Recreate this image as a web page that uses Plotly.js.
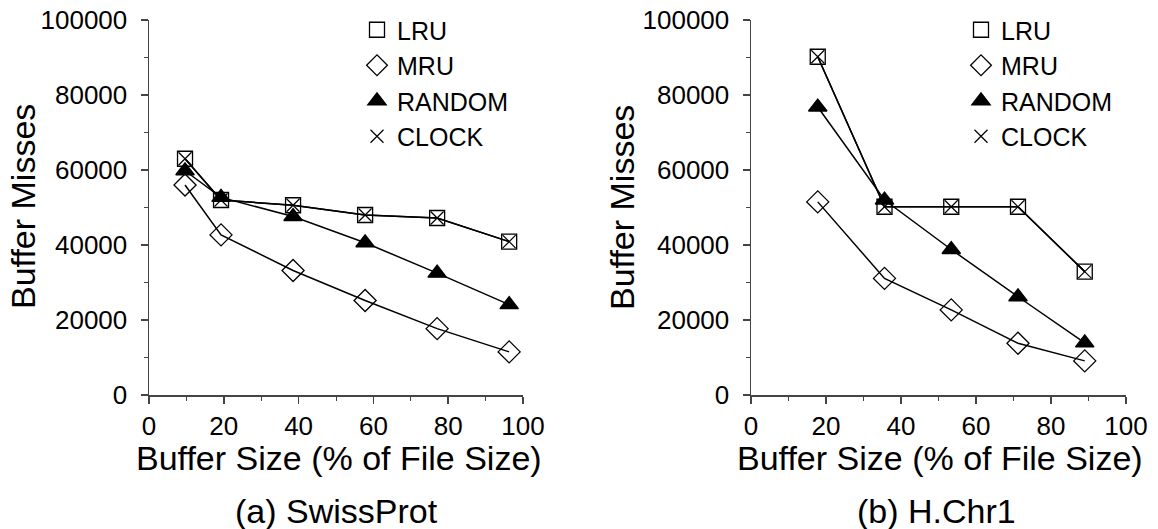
<!DOCTYPE html>
<html>
<head>
<meta charset="utf-8">
<script src="https://cdn.plot.ly/plotly-3.0.1.min.js"></script>
<style>html,body{margin:0;padding:0;background:#fff;}#chart{width:1158px;height:529px;}</style>
</head>
<body>
<div id="chart"></div>
<script>
// ---- data ----
var seriesNames = ["LRU", "MRU", "RANDOM", "CLOCK"];
var xSwiss = [9.63, 19.26, 38.52, 57.78, 77.04, 96.3];
var lruSwiss = [63000, 52000, 50600, 48000, 47200, 40900];
var mruSwiss = [56000, 42700, 33200, 25200, 17700, 11500];
var randomSwiss = [59800, 52700, 47600, 40600, 32500, 24100];
var clockSwiss = [63000, 52000, 50600, 48000, 47200, 40900];

var xChr = [17.8, 35.6, 53.4, 71.2, 89.0];
var lruChr = [90200, 50200, 50200, 50200, 32900];
var mruChr = [51500, 31100, 22700, 13800, 9100];
var randomChr = [76800, 52000, 38800, 26200, 13900];
var clockChr = [90200, 50200, 50200, 50200, 32900];

var xTickVals = [0, 20, 40, 60, 80, 100];
var yTickVals = [0, 20000, 40000, 60000, 80000, 100000];
var yTickText = ["0", "20000", "40000", "60000", "80000", "100000"];

var subtitleA = "(a) SwissProt";
var subtitleB = "(b) H.Chr1";
var xTitle = "Buffer Size (% of File Size)";
var yTitle = "Buffer Misses";

// ---- styles ----
var FONT = "Liberation Sans, Arial, Helvetica, sans-serif";
var symbols = {LRU: "square-open", MRU: "diamond-open", RANDOM: "triangle-up", CLOCK: "x-thin-open"};
var sizes = {LRU: 15, MRU: 17, RANDOM: 16, CLOCK: 13};
var AXC = "#444";

function makeTraces(x, ys, xa, ya, legendId) {
  var out = [];
  seriesNames.forEach(function (name, i) {
    out.push({
      x: x, y: ys[i], xaxis: xa, yaxis: ya, mode: "lines", showlegend: false,
      line: {color: "#000", width: 1.5}, hoverinfo: "skip", cliponaxis: false
    });
  });
  seriesNames.forEach(function (name, i) {
    out.push({
      x: x, y: ys[i], xaxis: xa, yaxis: ya, mode: "markers", name: name,
      legend: legendId, cliponaxis: false,
      marker: {
        symbol: symbols[name], size: sizes[name], color: "#000",
        line: {color: "#000", width: name === "CLOCK" ? 1.2 : 1.3}
      }
    });
  });
  return out;
}

var traces = []
  .concat(makeTraces(xSwiss, [lruSwiss, mruSwiss, randomSwiss, clockSwiss], "x", "y", "legend"))
  .concat(makeTraces(xChr, [lruChr, mruChr, randomChr, clockChr], "x2", "y2", "legend2"));

function xAxis(domain, anchor) {
  return {
    domain: domain, anchor: anchor, range: [0, 100], tickvals: xTickVals,
    showgrid: false, zeroline: false, showline: true, linecolor: AXC, linewidth: 1.5,
    ticks: "outside", ticklen: 7, tickwidth: 1.5, tickcolor: AXC,
    minor: {dtick: 10, ticks: "outside", ticklen: 4, tickwidth: 1, tickcolor: AXC},
    tickfont: {family: FONT, size: 26, color: "#000"}, fixedrange: true
  };
}
function yAxis(anchor) {
  return {
    domain: [1 - 395 / 529, 1 - 20 / 529], anchor: anchor, range: [0, 100000],
    tickvals: yTickVals, ticktext: yTickText,
    showgrid: false, zeroline: false, showline: true, linecolor: AXC, linewidth: 1.5,
    ticks: "outside", ticklen: 7, tickwidth: 1.5, tickcolor: AXC, ticklabelstandoff: 8,
    minor: {dtick: 10000, ticks: "outside", ticklen: 4, tickwidth: 1, tickcolor: AXC},
    tickfont: {family: FONT, size: 26, color: "#000"}, fixedrange: true
  };
}

var legendStyle = {
  font: {family: FONT, size: 25, color: "#000"}, bgcolor: "rgba(0,0,0,0)",
  borderwidth: 0, xanchor: "left", yanchor: "top", tracegroupgap: 0, itemwidth: 30
};

var annFont = {family: FONT, size: 34, color: "#000"};
var layout = {
  width: 1158, height: 529,
  margin: {l: 0, r: 0, t: 0, b: 0},
  paper_bgcolor: "#fff", plot_bgcolor: "#fff",
  showlegend: true,
  xaxis: xAxis([149 / 1158, 523 / 1158], "y"),
  yaxis: yAxis("x"),
  xaxis2: xAxis([751 / 1158, 1126 / 1158], "y2"),
  yaxis2: yAxis("x2"),
  legend: Object.assign({x: 357 / 1158, y: 1 - 7 / 529}, legendStyle),
  legend2: Object.assign({x: 961 / 1158, y: 1 - 7 / 529}, legendStyle),
  annotations: [
    {text: yTitle, textangle: -90, x: 23 / 1158, y: 1 - 207 / 529, xref: "paper", yref: "paper", showarrow: false, font: annFont, xanchor: "center", yanchor: "middle"},
    {text: yTitle, textangle: -90, x: 622 / 1158, y: 1 - 207 / 529, xref: "paper", yref: "paper", showarrow: false, font: annFont, xanchor: "center", yanchor: "middle"},
    {text: xTitle, x: 339 / 1158, y: 1 - 458 / 529, xref: "paper", yref: "paper", showarrow: false, font: annFont, xanchor: "center", yanchor: "middle"},
    {text: xTitle, x: 940 / 1158, y: 1 - 458 / 529, xref: "paper", yref: "paper", showarrow: false, font: annFont, xanchor: "center", yanchor: "middle"},
    {text: subtitleA, x: 336 / 1158, y: 1 - 511 / 529, xref: "paper", yref: "paper", showarrow: false, font: annFont, xanchor: "center", yanchor: "middle"},
    {text: subtitleB, x: 936 / 1158, y: 1 - 511 / 529, xref: "paper", yref: "paper", showarrow: false, font: annFont, xanchor: "center", yanchor: "middle"}
  ]
};

Plotly.newPlot("chart", traces, layout, {displayModeBar: false, staticPlot: true});
</script>
</body>
</html>
